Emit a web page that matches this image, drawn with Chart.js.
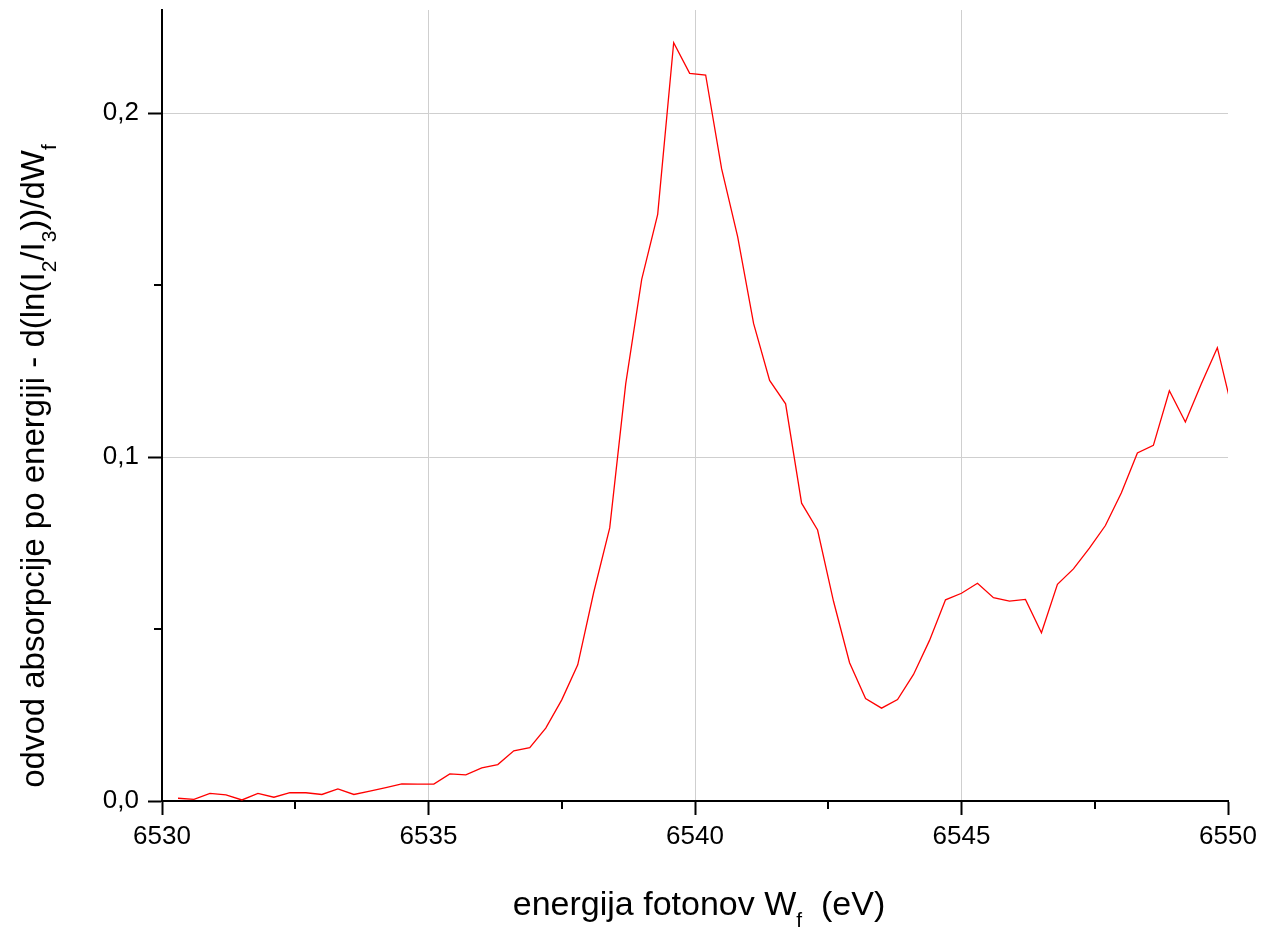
<!DOCTYPE html>
<html>
<head>
<meta charset="utf-8">
<script src="https://cdn.jsdelivr.net/npm/chart.js@4.4.1/dist/chart.umd.min.js"></script>
<style>
  html, body { margin: 0; padding: 0; background: #ffffff; }
  canvas { display: block; }
</style>
</head>
<body>
<canvas id="c" width="1262" height="938"></canvas>
<script>
// ---- data ----
const energy = [
  6530.3, 6530.6, 6530.9, 6531.2, 6531.5, 6531.8, 6532.1, 6532.4, 6532.7, 6533.0,
  6533.3, 6533.6, 6533.9, 6534.2, 6534.5, 6534.8, 6535.1, 6535.4, 6535.7, 6536.0,
  6536.3, 6536.6, 6536.9, 6537.2, 6537.5, 6537.8, 6538.1, 6538.4, 6538.7, 6539.0,
  6539.3, 6539.6, 6539.9, 6540.2, 6540.5, 6540.8, 6541.1, 6541.4, 6541.7, 6542.0,
  6542.3, 6542.6, 6542.9, 6543.2, 6543.5, 6543.8, 6544.1, 6544.4, 6544.7, 6545.0,
  6545.3, 6545.6, 6545.9, 6546.2, 6546.5, 6546.8, 6547.1, 6547.4, 6547.7, 6548.0,
  6548.3, 6548.6, 6548.9, 6549.2, 6549.5, 6549.8, 6550.1
];
const derivative = [
  0.0008, 0.0005, 0.0022, 0.0018, 0.0003, 0.0022, 0.0011, 0.0024, 0.0024, 0.0019,
  0.0035, 0.0019, 0.0029, 0.0039, 0.0050, 0.0049, 0.0049, 0.0079, 0.0076, 0.0096,
  0.0106, 0.0146, 0.0155, 0.0212, 0.0294, 0.0396, 0.0607, 0.0794, 0.1213, 0.1517,
  0.1706, 0.2205, 0.2116, 0.2111, 0.1838, 0.1641, 0.1388, 0.1223, 0.1155, 0.0866,
  0.0788, 0.0580, 0.0402, 0.0298, 0.0270, 0.0295, 0.0368, 0.0467, 0.0585, 0.0604,
  0.0633, 0.0591, 0.0581, 0.0586, 0.0489, 0.0630, 0.0675, 0.0735, 0.0801, 0.0896,
  0.1012, 0.1034, 0.1193, 0.1102, 0.1213, 0.1318, 0.1125
];
const xMajorTicks = [6530, 6535, 6540, 6545, 6550];
const xMinorTicks = [6532.5, 6537.5, 6542.5, 6547.5];
const yMajorTicks = [0, 0.1, 0.2];
const yMinorTicks = [0.05, 0.15];
const xRange = [6530, 6550];
const yRange = [0, 0.23];

const xTitleParts = [
  { t: 'energija fotonov W' }, { t: 'f', sub: true }, { t: '  (eV)' }
];
const yTitleParts = [
  { t: 'odvod absorpcije po energiji - d(ln(I' }, { t: '2', sub: true },
  { t: '/I' }, { t: '3', sub: true }, { t: '))/dW' }, { t: 'f', sub: true }
];

// ---- drawing ----
const FONT = '"Liberation Sans", Arial, Helvetica, sans-serif';

function richWidth(ctx, parts, size, subSize) {
  let w = 0;
  for (const p of parts) {
    ctx.font = (p.sub ? subSize : size) + 'px ' + FONT;
    w += ctx.measureText(p.t).width;
  }
  return w;
}
function drawRich(ctx, parts, size) {
  const subSize = Math.round(size * 0.63);
  const subOff = Math.round(size * 0.36);
  const total = richWidth(ctx, parts, size, subSize);
  let x = -total / 2;
  ctx.textBaseline = 'alphabetic';
  ctx.textAlign = 'left';
  for (const p of parts) {
    ctx.font = (p.sub ? subSize : size) + 'px ' + FONT;
    ctx.fillText(p.t, x, p.sub ? subOff : 0);
    x += ctx.measureText(p.t).width;
  }
}

const extrasPlugin = {
  id: 'extras',
  afterDraw(chart) {
    const ctx = chart.ctx;
    const xs = chart.scales.x, ys = chart.scales.y;
    const area = chart.chartArea;
    ctx.save();
    // minor ticks
    ctx.strokeStyle = '#000';
    ctx.lineWidth = 2;
    ctx.beginPath();
    for (const v of xMinorTicks) {
      const px = Math.round(xs.getPixelForValue(v));
      ctx.moveTo(px, area.bottom);
      ctx.lineTo(px, area.bottom + 8);
    }
    for (const v of yMinorTicks) {
      const py = Math.round(ys.getPixelForValue(v));
      ctx.moveTo(area.left - 8, py);
      ctx.lineTo(area.left, py);
    }
    ctx.stroke();
    // axis titles
    ctx.fillStyle = '#000';
    ctx.save();
    ctx.translate(699, 915);
    drawRich(ctx, xTitleParts, 34);
    ctx.restore();
    ctx.save();
    ctx.translate(44, 466);
    ctx.rotate(-Math.PI / 2);
    drawRich(ctx, yTitleParts, 33);
    ctx.restore();
    ctx.restore();
  }
};

new Chart(document.getElementById('c'), {
  type: 'line',
  data: {
    datasets: [{
      data: energy.map((e, i) => ({ x: e, y: derivative[i] })),
      borderColor: '#ff0000',
      borderWidth: 1.3,
      pointRadius: 0,
      tension: 0,
      fill: false
    }]
  },
  options: {
    responsive: false,
    animation: false,
    devicePixelRatio: 1,
    layout: { padding: { left: 0, right: 34, top: 10, bottom: 0 } },
    plugins: { legend: { display: false }, tooltip: { enabled: false }, title: { display: false } },
    scales: {
      x: {
        type: 'linear',
        min: xRange[0], max: xRange[1],
        afterBuildTicks: s => { s.ticks = xMajorTicks.map(v => ({ value: v })); },
        afterFit: s => { s.height = 137; s.paddingLeft = 0; s.paddingRight = 0; },
        grid: {
          color: c => (c.tick && c.tick.value > xRange[0] && c.tick.value < xRange[1]) ? '#cfcfcf' : 'rgba(0,0,0,0)',
          lineWidth: 1,
          tickColor: '#000',
          tickLength: 14,
          tickWidth: 2
        },
        border: { display: true, color: '#000', width: 2 },
        ticks: {
          color: '#000',
          font: { family: FONT, size: 26 },
          padding: 6,
          maxRotation: 0,
          autoSkip: false,
          callback: v => String(v)
        }
      },
      y: {
        type: 'linear',
        min: yRange[0], max: yRange[1],
        afterBuildTicks: s => { s.ticks = yMajorTicks.map(v => ({ value: v })); },
        afterFit: s => { s.width = 162; s.paddingTop = 0; s.paddingBottom = 0; },
        grid: {
          color: c => (c.tick && c.tick.value > yRange[0]) ? '#cfcfcf' : 'rgba(0,0,0,0)',
          lineWidth: 1,
          tickColor: '#000',
          tickLength: 14,
          tickWidth: 2
        },
        border: { display: true, color: '#000', width: 2 },
        ticks: {
          color: '#000',
          font: { family: FONT, size: 26 },
          padding: 9,
          autoSkip: false,
          callback: v => v.toFixed(1).replace('.', ',')
        }
      }
    }
  },
  plugins: [extrasPlugin]
});
</script>
</body>
</html>
